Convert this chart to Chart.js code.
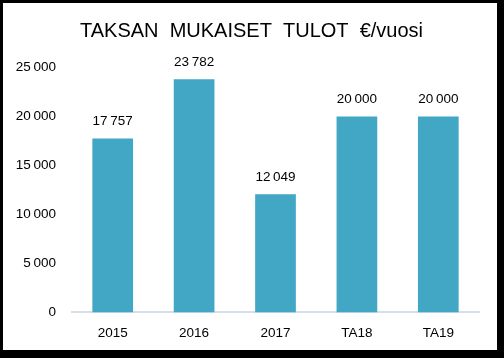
<!DOCTYPE html>
<html>
<head>
<meta charset="utf-8">
<script src="https://cdn.jsdelivr.net/npm/chart.js@4"></script>
<style>
  html, body { margin: 0; padding: 0; background: #000; }
  body { width: 504px; height: 358px; position: relative; overflow: hidden; }
  #wrap { position: absolute; left: 3px; top: 3px; width: 494px; height: 347px; background: #fff; }
  canvas { display: block; }
</style>
</head>
<body>
<div id="wrap"><canvas id="c" width="494" height="347"></canvas></div>
<script>
const categories = ['2015', '2016', '2017', 'TA18', 'TA19'];
const values = [17757, 23782, 12049, 20000, 20000];
const yTicks = [0, 5000, 10000, 15000, 20000, 25000];
const titleText = 'TAKSAN  MUKAISET  TULOT  €/vuosi';

function fmt(v) {
  return String(v).replace(/\B(?=(\d{3})+(?!\d))/g, '\u202F');
}

const FONT = '"Liberation Sans", Arial, sans-serif';

const labelPlugin = {
  id: 'barLabels',
  afterDatasetsDraw(chart) {
    const ctx = chart.ctx;
    const meta = chart.getDatasetMeta(0);
    ctx.save();
    ctx.font = '13.5px ' + FONT;
    ctx.fillStyle = '#000';
    ctx.textAlign = 'center';
    ctx.textBaseline = 'middle';
    meta.data.forEach((bar, i) => {
      ctx.fillText(fmt(values[i]), bar.x, bar.y - 17);
    });
    ctx.restore();
  }
};

const titlePlugin = {
  id: 'centeredTitle',
  afterDraw(chart) {
    const ctx = chart.ctx;
    ctx.save();
    ctx.font = '20px ' + FONT;
    ctx.fillStyle = '#000';
    ctx.textAlign = 'center';
    ctx.textBaseline = 'alphabetic';
    ctx.fillText(titleText, chart.width / 2 + 1.5, 33.7);
    ctx.restore();
  }
};

new Chart(document.getElementById('c'), {
  type: 'bar',
  data: {
    labels: categories,
    datasets: [{
      data: values,
      backgroundColor: '#41A7C5',
      borderWidth: 0,
      categoryPercentage: 1,
      barPercentage: 0.5
    }]
  },
  options: {
    responsive: false,
    animation: false,
    devicePixelRatio: 1,
    layout: { padding: { left: 0, right: 18, top: 64.4, bottom: 9.6 } },
    plugins: {
      legend: { display: false },
      tooltip: { enabled: false },
      title: { display: false }
    },
    scales: {
      x: {
        grid: { display: false, drawTicks: false },
        border: { display: true, color: '#D6DEE6', width: 2 },
        afterFit(axis) { axis.height = 28; },
        ticks: { color: '#000', font: { family: FONT, size: 13.5 }, padding: 13 }
      },
      y: {
        min: 0, max: 25000,
        afterBuildTicks(axis) { axis.ticks = yTicks.map(v => ({ value: v })); },
        afterFit(axis) { axis.width = 69; },
        grid: { display: false, drawTicks: false },
        border: { display: false },
        ticks: {
          color: '#000',
          font: { family: FONT, size: 13.5 },
          padding: 16,
          callback: v => fmt(v)
        }
      }
    }
  },
  plugins: [labelPlugin, titlePlugin]
});
</script>
</body>
</html>
